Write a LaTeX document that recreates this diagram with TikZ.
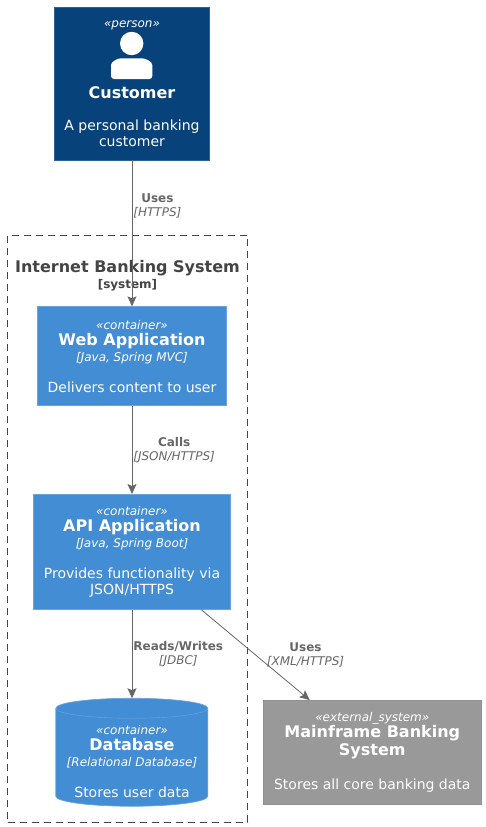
\documentclass[tikz,border=0pt]{standalone}
\usepackage{fontspec}
\setmainfont{DejaVu Sans}
\usetikzlibrary{shapes.geometric, arrows.meta, positioning}

\definecolor{personfill}{HTML}{08427B}
\definecolor{personline}{HTML}{2E6295}
\definecolor{containerfill}{HTML}{438DD5}
\definecolor{containerline}{HTML}{6BA5DE}
\definecolor{externalfill}{HTML}{999999}
\definecolor{externalline}{HTML}{919191}
\definecolor{edgegray}{HTML}{666666}
\definecolor{systemgray}{HTML}{444444}

\newcommand{\stereo}[1]{{\fontsize{12}{16}\selectfont\itshape «#1»}}
\newcommand{\titletext}[1]{{\fontsize{16}{18}\selectfont\bfseries #1}}
\newcommand{\techtext}[1]{{\fontsize{12}{16}\selectfont\itshape [#1]}}

\begin{document}
\begin{tikzpicture}[
    node distance=1cm,
    every node/.style={font=\fontsize{14}{16}\selectfont},
    element/.style={draw, align=center, text=white, inner sep=0pt, line width=0.7pt},
    personbox/.style={element, fill=personfill, draw=personline, minimum width=155.5pt, minimum height=153pt},
    containerbox/.style={element, fill=containerfill, draw=containerline},
    externalbox/.style={element, fill=externalfill, draw=externalline, minimum width=217.5pt, minimum height=104pt},
    database/.style={inner sep=0pt, minimum width=152pt, minimum height=108pt},
    dbshape/.style={fill=containerfill, draw=containerline, line width=0.7pt},
    boundary/.style={draw=systemgray, dash pattern=on 7pt off 5pt, line width=0.8pt, minimum width=240pt, minimum height=587pt, inner sep=0pt},
    arrow/.style={-{Stealth[length=10pt, width=9pt, inset=2pt]}, draw=edgegray, line width=0.8pt},
    edgelabel/.style={text=edgegray, align=center, font=\fontsize{12}{14}\selectfont, inner sep=1pt}
]
    \useasboundingbox (0,0) rectangle (485pt,-827pt);

    \node (system) [boundary] at (127.5pt,-528.5pt) {};
    \node (systemtitle) [below=26pt of system.north, text=systemgray, align=center, inner sep=0pt] {\titletext{Internet Banking System}\\{\fontsize{12}{14}\selectfont\bfseries [system]}};

    \node (customer) [personbox] at (132pt,-83.5pt) {\stereo{person}\\[55pt]\titletext{Customer}\\[16pt]A personal banking\\customer};
    \node (web) [containerbox, minimum width=189.5pt, minimum height=99pt, below=146pt of customer] {\stereo{container}\\\titletext{Web Application}\\\techtext{Java, Spring MVC}\\[15pt]Delivers content to user};
    \node (api) [containerbox, minimum width=197.5pt, minimum height=115pt, below=88pt of web] {\stereo{container}\\\titletext{API Application}\\\techtext{Java, Spring Boot}\\[15pt]Provides functionality via\\JSON/HTTPS};
    \node (db) [database, below=88.5pt of api] {};
    \node (mainframe) [externalbox, right=55pt of db] {\stereo{external\_system}\\\titletext{Mainframe Banking}\\[2pt]\titletext{System}\\[18pt]Stores all core banking data};

    % database body
    \path [dbshape] (db.north west) ++(0,-10pt) arc[start angle=180, end angle=0, x radius=76pt, y radius=10pt] -- ++(0,-88pt) arc[start angle=0, end angle=-180, x radius=76pt, y radius=10pt] -- cycle;
    \draw [containerline, line width=0.4pt] (db.north west) ++(0,-10pt) arc[start angle=180, end angle=360, x radius=76pt, y radius=10pt];
    \node (dbtext) [align=center, text=white, inner sep=0pt, yshift=-9pt] at (db.center) {\stereo{container}\\\titletext{Database}\\\techtext{Relational Database}\\[15pt]Stores user data};

    % person icon
    \fill[white] (131.7pt,-43.5pt) circle (11.7pt);
    \fill[white, rounded corners=3pt] (111pt,-79pt) -- (111pt,-68pt) to[out=90, in=180] (124pt,-58.3pt) -- (139pt,-58.3pt) to[out=0, in=90] (152.3pt,-68pt) -- (152.3pt,-79pt) -- cycle;

    \draw [arrow] (customer) -- node[edgelabel, pos=0.31, right] {\textbf{Uses}\\\textit{[HTTPS]}} (web);
    \draw [arrow] (web) -- node[edgelabel, right] {\textbf{Calls}\\\textit{[JSON/HTTPS]}} (api);
    \draw [arrow] (api) -- node[edgelabel, right] {\textbf{Reads/Writes}\\\textit{[JDBC]}} (db);
    \draw [arrow] (api) -- node[edgelabel, right, xshift=10pt] {\textbf{Uses}\\\textit{[XML/HTTPS]}} (mainframe);
\end{tikzpicture}
\end{document}
